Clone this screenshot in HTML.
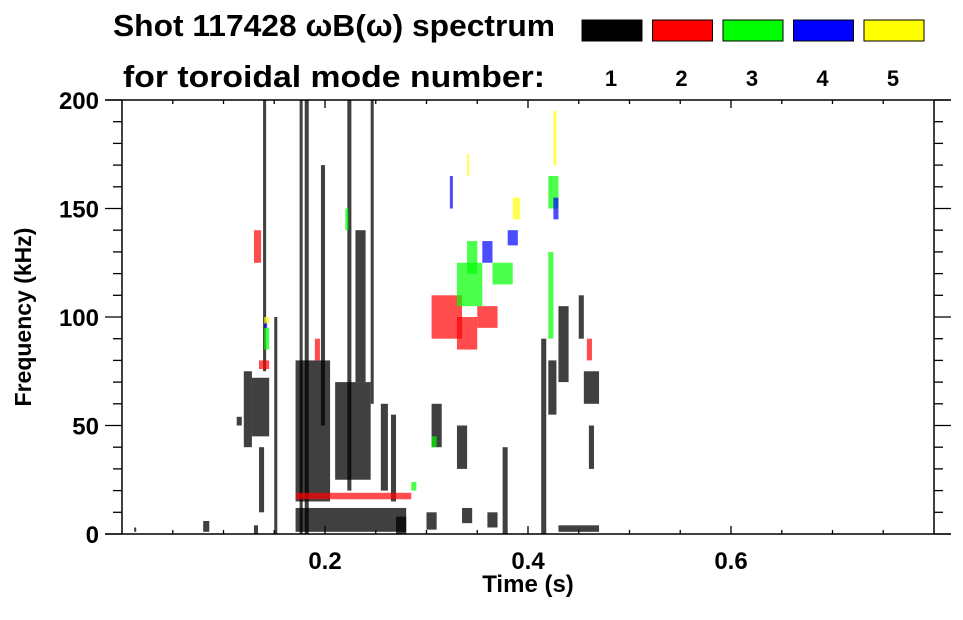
<!DOCTYPE html>
<html><head><meta charset="utf-8"><style>
body{margin:0;background:#fff;}
svg text{font-family:"Liberation Sans",sans-serif;font-weight:bold;fill:#000;}
</style></head><body>
<svg id="chart" width="963" height="615" viewBox="0 0 963 615" xmlns="http://www.w3.org/2000/svg">
<rect width="963" height="615" fill="#fff"/>
<text x="113" y="36" font-size="31" textLength="442" lengthAdjust="spacingAndGlyphs">Shot 117428 ωB(ω) spectrum</text>
<text x="123" y="87" font-size="31" textLength="422" lengthAdjust="spacingAndGlyphs">for toroidal mode number:</text>
<g id="legend"></g>
<g id="marks"></g>
<g id="axes"></g>
<text x="528" y="592" font-size="24" text-anchor="middle">Time (s)</text>
<text transform="translate(31,317) rotate(-90)" font-size="23" text-anchor="middle">Frequency (kHz)</text>
</svg>
<script>
const modes=[1,2,3,4,5];
const modeColors=["#000000","#ff0000","#00ff00","#0000ff","#ffff00"];
const xTickMajor=[0.2,0.4,0.6];
const yTickMajor=[0,50,100,150,200];
// patches: time start/end (s), freq low/high (kHz), mode
const pT0=[0.012,0.08,0.113,0.13,0.12,0.128,0.139,0.135,0.175,0.18,0.171,0.171,0.196,0.222,0.21,0.23,0.245,0.255,0.265,0.27,0.3,0.305,0.335,0.36,0.375,0.33,0.413,0.42,0.43,0.455,0.45,0.46,0.43,0.15,
0.171,0.135,0.13,0.305,0.33,0.35,0.458,0.19,
0.33,0.365,0.34,0.42,0.285,0.14,0.22,0.305,0.42,
0.355,0.38,0.323,0.425,0.14,
0.385,0.425,0.14,0.34];
const pT1=[0.014,0.086,0.118,0.134,0.128,0.145,0.142,0.14,0.178,0.184,0.205,0.28,0.2,0.226,0.245,0.24,0.248,0.262,0.27,0.28,0.31,0.315,0.345,0.37,0.38,0.34,0.418,0.428,0.44,0.47,0.455,0.465,0.47,0.153,
0.285,0.145,0.137,0.335,0.35,0.37,0.463,0.195,
0.355,0.385,0.35,0.425,0.29,0.145,0.223,0.31,0.43,
0.365,0.39,0.326,0.43,0.143,
0.392,0.428,0.145,0.342];
const pF0=[1,1,50,0,40,45,75,10,0,0,15,1,50,20,25,70,60,20,15,0,2,40,5,3,0,30,0,55,70,60,90,30,1,0,
16,76,125,90,85,95,80,80,
105,115,120,90,20,85,140,40,150,
125,133,150,145,95,
145,170,97,165];
const pF1=[3,6,54,4,75,72,200,40,200,200,80,12,170,200,70,140,200,60,55,8,10,60,12,10,40,50,90,80,105,75,110,50,4,100,
19,80,140,110,100,105,90,90,
125,125,135,130,24,95,150,45,165,
135,140,165,155,98,
155,195,100,175];
const pMode=[1,1,1,1,1,1,1,1,1,1,1,1,1,1,1,1,1,1,1,1,1,1,1,1,1,1,1,1,1,1,1,1,1,1,
2,2,2,2,2,2,2,2,
3,3,3,3,3,3,3,3,3,
4,4,4,4,4,
5,5,5,5];
const NS="http://www.w3.org/2000/svg";
const xs=t=>122+t*1015;
const ys=f=>534-f*2.17;
function mk(tag,attrs,parent){const e=document.createElementNS(NS,tag);for(const k in attrs)e.setAttribute(k,attrs[k]);parent.appendChild(e);return e;}
const marks=document.getElementById('marks');
for(let i=0;i<pT0.length;i++){
  const x0=xs(pT0[i]),x1=xs(pT1[i]),y0=ys(pF1[i]),y1=ys(pF0[i]);
  const r=mk('rect',{x:x0,y:y0,width:Math.max(1,x1-x0),height:Math.max(1,y1-y0),fill:modeColors[pMode[i]-1],'fill-opacity':pMode[i]==1?0.75:0.7},marks);
  
  
}
const legend=document.getElementById('legend');
modes.forEach((m,i)=>{
  const x=582+i*70.5;
  const r=mk('rect',{x:x,y:20,width:60,height:21,fill:modeColors[i],stroke:'#000','stroke-width':1},legend);
  
  
  const t=mk('text',{x:x+29,y:86,'font-size':22,'text-anchor':'middle'},legend);
  t.textContent=m;
  
  
});
const axes=document.getElementById('axes');
mk('line',{x1:105,y1:100,x2:951,y2:100,stroke:'#000','stroke-width':1.5},axes);
mk('line',{x1:105,y1:534,x2:951,y2:534,stroke:'#000','stroke-width':1.5},axes);
mk('line',{x1:122,y1:100,x2:122,y2:534,stroke:'#000','stroke-width':1.5},axes);
mk('line',{x1:934,y1:100,x2:934,y2:534,stroke:'#000','stroke-width':1.5},axes);
for(let k=1;k<16;k++){
  const t=k*0.05,x=xs(t),maj=(k%4==0);
  const L=maj?8:4;
  mk('line',{x1:x,y1:534,x2:x,y2:534-L,stroke:'#000','stroke-width':1.3},axes);
  mk('line',{x1:x,y1:100,x2:x,y2:100+L,stroke:'#000','stroke-width':1.3},axes);
}
xTickMajor.forEach(t=>{
  const e=mk('text',{x:xs(t),y:569,'font-size':24,'text-anchor':'middle'},axes);
  e.textContent=t.toFixed(1);
  
  
});
for(let f=0;f<=200;f+=10){
  const y=ys(f),maj=(f%50==0),L=maj?17:9;
  mk('line',{x1:122-L,y1:y,x2:122,y2:y,stroke:'#000','stroke-width':1.3},axes);
  mk('line',{x1:934,y1:y,x2:934+L,y2:y,stroke:'#000','stroke-width':1.3},axes);
}
yTickMajor.forEach(f=>{
  const e=mk('text',{x:99,y:ys(f)+9,'font-size':24,'text-anchor':'end'},axes);
  e.textContent=f;
  
  
});
</script>
</body></html>
